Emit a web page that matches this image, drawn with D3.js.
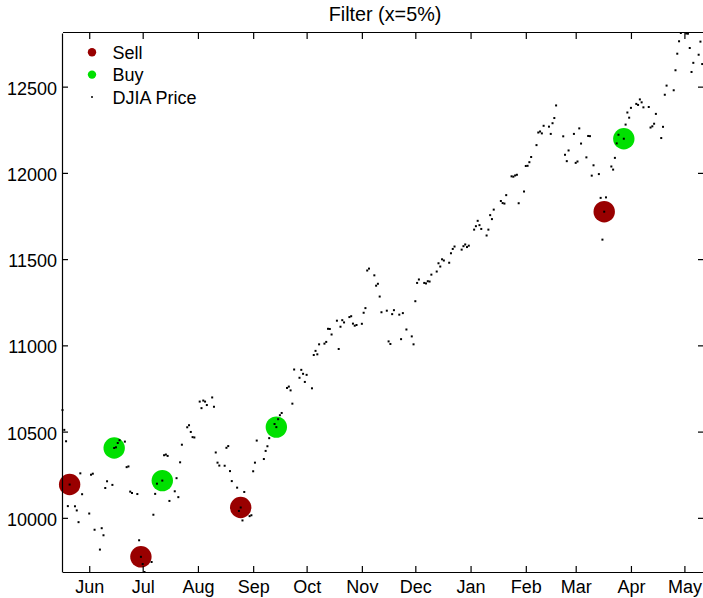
<!DOCTYPE html>
<html><head><meta charset="utf-8">
<script src="https://cdn.jsdelivr.net/npm/d3@7"></script>
<style>
body{margin:0;background:#fff;}
svg{display:block;font-family:"Liberation Sans",Arial,Helvetica,sans-serif;}
</style>
</head><body>
<svg id="chart" width="703" height="598"></svg>
<script>
// ---- data (DJIA daily closes) ----
const dates = [
"2010-05-17","2010-05-18","2010-05-19","2010-05-20","2010-05-21","2010-05-24","2010-05-25","2010-05-26","2010-05-27","2010-05-28",
"2010-06-01","2010-06-02","2010-06-03","2010-06-04","2010-06-07","2010-06-08","2010-06-09","2010-06-10","2010-06-11","2010-06-14",
"2010-06-15","2010-06-16","2010-06-17","2010-06-18","2010-06-21","2010-06-22","2010-06-23","2010-06-24","2010-06-25","2010-06-28",
"2010-06-29","2010-06-30","2010-07-01","2010-07-02","2010-07-06","2010-07-07","2010-07-08","2010-07-09","2010-07-12","2010-07-13",
"2010-07-14","2010-07-15","2010-07-16","2010-07-19","2010-07-20","2010-07-21","2010-07-22","2010-07-23","2010-07-26","2010-07-27",
"2010-07-28","2010-07-29","2010-07-30","2010-08-02","2010-08-03","2010-08-04","2010-08-05","2010-08-06","2010-08-09","2010-08-10",
"2010-08-11","2010-08-12","2010-08-13","2010-08-16","2010-08-17","2010-08-18","2010-08-19","2010-08-20","2010-08-23","2010-08-24",
"2010-08-25","2010-08-26","2010-08-27","2010-08-30","2010-08-31","2010-09-01","2010-09-02","2010-09-03","2010-09-07","2010-09-08",
"2010-09-09","2010-09-10","2010-09-13","2010-09-14","2010-09-15","2010-09-16","2010-09-17","2010-09-20","2010-09-21","2010-09-22",
"2010-09-23","2010-09-24","2010-09-27","2010-09-28","2010-09-29","2010-09-30","2010-10-01","2010-10-04","2010-10-05","2010-10-06",
"2010-10-07","2010-10-08","2010-10-11","2010-10-12","2010-10-13","2010-10-14","2010-10-15","2010-10-18","2010-10-19","2010-10-20",
"2010-10-21","2010-10-22","2010-10-25","2010-10-26","2010-10-27","2010-10-28","2010-10-29","2010-11-01","2010-11-02","2010-11-03",
"2010-11-04","2010-11-05","2010-11-08","2010-11-09","2010-11-10","2010-11-11","2010-11-12","2010-11-15","2010-11-16","2010-11-17",
"2010-11-18","2010-11-19","2010-11-22","2010-11-23","2010-11-24","2010-11-26","2010-11-29","2010-11-30","2010-12-01","2010-12-02",
"2010-12-03","2010-12-06","2010-12-07","2010-12-08","2010-12-09","2010-12-10","2010-12-13","2010-12-14","2010-12-15","2010-12-16",
"2010-12-17","2010-12-20","2010-12-21","2010-12-22","2010-12-23","2010-12-27","2010-12-28","2010-12-29","2010-12-30","2010-12-31",
"2011-01-03","2011-01-04","2011-01-05","2011-01-06","2011-01-07","2011-01-10","2011-01-11","2011-01-12","2011-01-13","2011-01-14",
"2011-01-18","2011-01-19","2011-01-20","2011-01-21","2011-01-24","2011-01-25","2011-01-26","2011-01-27","2011-01-28","2011-01-31",
"2011-02-01","2011-02-02","2011-02-03","2011-02-04","2011-02-07","2011-02-08","2011-02-09","2011-02-10","2011-02-11","2011-02-14",
"2011-02-15","2011-02-16","2011-02-17","2011-02-18","2011-02-22","2011-02-23","2011-02-24","2011-02-25","2011-02-28","2011-03-01",
"2011-03-02","2011-03-03","2011-03-04","2011-03-07","2011-03-08","2011-03-09","2011-03-10","2011-03-11","2011-03-14","2011-03-15",
"2011-03-16","2011-03-17","2011-03-18","2011-03-21","2011-03-22","2011-03-23","2011-03-24","2011-03-25","2011-03-28","2011-03-29",
"2011-03-30","2011-03-31","2011-04-01","2011-04-04","2011-04-05","2011-04-06","2011-04-07","2011-04-08","2011-04-11","2011-04-12",
"2011-04-13","2011-04-14","2011-04-15","2011-04-18","2011-04-19","2011-04-20","2011-04-21","2011-04-25","2011-04-26","2011-04-27",
"2011-04-28","2011-04-29","2011-05-02","2011-05-03","2011-05-04","2011-05-05","2011-05-06","2011-05-09","2011-05-10","2011-05-11",
"2011-05-12"
];
const closes = [
10625,10510,10444,10068,10193,10067,10043,9975,10258,10137,
10025,10250,10256,9931,9816,9940,9899,10173,10212,10191,
10405,10409,10434,10450,10442,10294,10298,10152,10144,10138,
9870,9774,9732,9686,9744,10018,10139,10198,10216,10363,
10367,10359,10098,10154,10230,10120,10322,10424,10525,10537,
10498,10468,10466,10674,10636,10680,10674,10654,10698,10644,
10379,10320,10303,10302,10406,10416,10271,10213,10175,10040,
10060,9985,10150,10010,10015,10270,10320,10448,10341,10388,
10415,10462,10544,10526,10572,10595,10608,10753,10761,10739,
10662,10860,10812,10858,10835,10788,10829,10751,10944,10968,
10948,11006,11010,11020,11096,11095,11063,11143,10979,11108,
11146,11133,11164,11169,11126,11114,11118,11125,11189,11216,
11434,11445,11406,11346,11357,11283,11192,11201,11023,11008,
11181,11204,11178,11036,11187,11092,11052,11006,11256,11362,
11382,11362,11359,11372,11370,11410,11428,11476,11457,11499,
11492,11479,11534,11559,11573,11555,11575,11585,11570,11578,
11671,11691,11722,11697,11675,11637,11671,11755,11732,11787,
11837,11825,11822,11871,11980,11978,11985,11989,11824,11892,
12040,12041,12062,12092,12161,12234,12240,12229,12273,12268,
12226,12288,12318,12391,12212,12105,12068,12130,12226,12058,
12066,12258,12170,12090,12214,12213,11984,12044,11993,11855,
11613,11775,11858,12037,12019,12087,12171,12221,12198,12280,
12350,12320,12377,12400,12394,12426,12409,12380,12382,12263,
12270,12285,12342,12202,12267,12453,12506,12479,12595,12691,
12763,12811,12808,12807,12724,12585,12638,12685,12761,12631,
12696
];
const sellDates  = ["2010-05-21","2010-06-30","2010-08-25","2011-03-17"];
const sellValues = [10193, 9774, 10060, 11775];
const buyDates   = ["2010-06-15","2010-07-12","2010-09-14","2011-03-28"];
const buyValues  = [10405, 10216, 10526, 12198];
const yTicks = [10000, 10500, 11000, 11500, 12000, 12500];
const legendLabels = ["Sell", "Buy", "DJIA Price"];
const titleText = "Filter (x=5%)";

// ---- drawing ----
const parse = d3.timeParse("%Y-%m-%d");
const price = dates.map((d, i) => ({date: parse(d), value: closes[i]}));
const sells = sellDates.map((d, i) => ({date: parse(d), value: sellValues[i]}));
const buys  = buyDates.map((d, i) => ({date: parse(d), value: buyValues[i]}));

const L = 62, R = 704, T = 32, B = 572;
const FS = 18;
const SELL = "#990000", BUY = "#00e000";

const x = d3.scaleTime().domain(d3.extent(price, d => d.date)).range([L + 0.5, R]);
const y = d3.scaleLinear().domain(d3.extent(price, d => d.value)).range([B, T + 1]);

const svg = d3.select("#chart");
svg.append("rect").attr("width", 703).attr("height", 598).attr("fill", "#fff");

const g = svg.append("g");

// markers: sell / buy circles, then price dots on top
g.selectAll("circle.sell").data(sells).join("circle").attr("class", "sell")
  .attr("cx", d => x(d.date)).attr("cy", d => y(d.value)).attr("r", 10.7).attr("fill", SELL);
g.selectAll("circle.buy").data(buys).join("circle").attr("class", "buy")
  .attr("cx", d => x(d.date)).attr("cy", d => y(d.value)).attr("r", 10.7).attr("fill", BUY);
g.selectAll("rect.px").data(price).join("rect").attr("class", "px")
  .attr("x", d => x(d.date) - 1).attr("y", d => y(d.value) - 1)
  .attr("width", 2).attr("height", 2).attr("fill", "#000");

// axes
const monthFmt = d3.timeFormat("%b");
const months = d3.timeMonth.every(1);

const xb = svg.append("g").attr("transform", `translate(0,${B})`)
  .call(d3.axisBottom(x).ticks(months).tickFormat(monthFmt).tickSizeInner(-6).tickSizeOuter(0).tickPadding(8));
const xt = svg.append("g").attr("transform", `translate(0,${T})`)
  .call(d3.axisTop(x).ticks(months).tickFormat("").tickSizeInner(-7).tickSizeOuter(0));
const yl = svg.append("g").attr("transform", `translate(${L},0)`)
  .call(d3.axisLeft(y).tickValues(yTicks).tickFormat(d3.format("d")).tickSizeInner(-6).tickSizeOuter(0).tickPadding(5));
const yr = svg.append("g").attr("transform", `translate(${R},0)`)
  .call(d3.axisRight(y).tickValues(yTicks).tickFormat("").tickSizeInner(-6).tickSizeOuter(0));

[xb, xt, yl, yr].forEach(a => {
  a.selectAll("path, line").attr("stroke", "#000").attr("stroke-width", 1.2);
  a.selectAll("text").attr("fill", "#000").attr("font-size", FS)
    .attr("font-family", '"Liberation Sans",Arial,sans-serif');
});
yl.selectAll("text").attr("dy", "0.42em");

// title
svg.append("text").attr("x", (L + R) / 2 + 2).attr("y", 20.7).attr("text-anchor", "middle")
  .attr("font-size", 19.8).attr("fill", "#000").text(titleText);

// legend
const lg = svg.append("g");
const legendColors = [SELL, BUY, "#000"];
const legendR = [4.2, 4.2, 1];
legendLabels.forEach((lab, i) => {
  const cy = 52.3 + i * 22.3;
  lg.append("circle").attr("cx", 92).attr("cy", cy).attr("r", legendR[i]).attr("fill", legendColors[i]);
  lg.append("text").attr("x", 112.5).attr("y", cy + 6.6).attr("font-size", FS)
    .attr("fill", "#000").text(lab);
});
</script>
</body></html>
